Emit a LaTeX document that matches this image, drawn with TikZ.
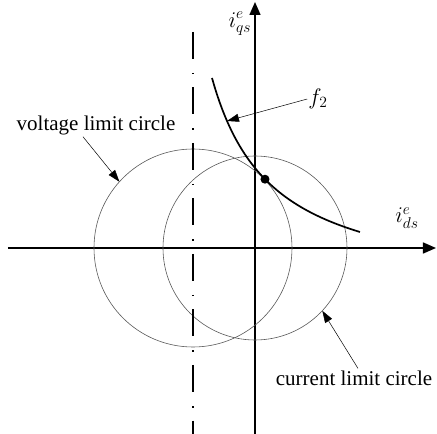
\documentclass[tikz,border=0pt]{standalone}
\usepackage{graphicx}
\usepackage{fontspec}
\setmainfont{Liberation Serif}
\usetikzlibrary{positioning, arrows.meta, calc}
\newcommand{\biglbl}[1]{\scalebox{1.3}{$#1$}}

\begin{document}
\begin{tikzpicture}[
            x=1pt, y=1pt,
            axis/.style={line width=1.5pt, -{Triangle[length=13pt, width=11pt]}},
            limit/.style={draw=black!65, line width=0.6pt},
            curve/.style={line width=1.7pt},
            center line/.style={line width=1.3pt, dash pattern=on 27pt off 14pt on 1.5pt off 13pt},
            pointer/.style={line width=0.5pt, -{Triangle[length=12pt, width=8pt]}},
            lbl/.style={font=\fontsize{21}{24}\selectfont, inner sep=2pt},
            mlbl/.style={font=\fontsize{17.28}{20}\selectfont, inner sep=1pt},
        ]
            \useasboundingbox (-255,-186) rectangle (182,248);

            % Axes
            \coordinate (o) at (0,0);
            \coordinate (dsl) at (-247,0);
            \coordinate (dsr) at (181,0);
            \coordinate (qsb) at (0,-186);
            \coordinate (qst) at (0,246);
            \draw[axis] (dsl) -- (dsr);
            \draw[axis] (qsb) -- (qst);
            \node[mlbl] (qs) at (-15,224) {\biglbl{i_{qs}^{e}}};
            \node[mlbl] (ds) at (152,30) {\biglbl{i_{ds}^{e}}};

            % Limit circles and centre of the voltage circle
            \coordinate (vc) at (-62,0);
            \draw[limit] (vc) circle[radius=99];
            \draw[limit] (o) circle[radius=92];
            \coordinate (ctop) at (-62,216);
            \coordinate (cbot) at (-62,-186);
            \draw[center line] (ctop) -- (cbot);

            % f2 curve with operating point
            \draw[curve] plot[domain=-43:105, samples=60] (\x, {13211/(\x+103.8)-47.27});
            \coordinate (op) at (10,68.8);
            \fill (op) circle[radius=4.5];

            % Labels
            \node[lbl] (vlabel) at (-159,123) {voltage limit circle};
            \node[lbl] (clabel) at (99,-130) {current limit circle};
            \node[mlbl] (flabel) at (63,149) {\biglbl{f_2}};
            \coordinate (vtip) at ($(vc)+(138:99)$);
            \coordinate (ctip) at ($(o)+(-43:92)$);
            \coordinate (ftip) at (-28,127);
            \draw[pointer] ([xshift=-13pt]vlabel.south) -- (vtip);
            \draw[pointer] ([xshift=4pt]clabel.north) -- (ctip);
            \draw[pointer] (flabel.west) -- (ftip);
        \end{tikzpicture}
\end{document}
